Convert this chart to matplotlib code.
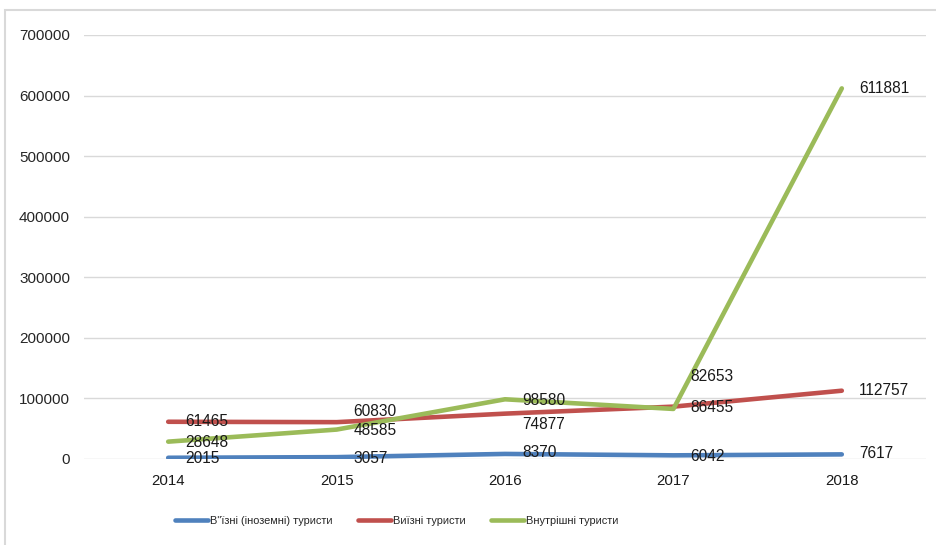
import numpy as np
import matplotlib
matplotlib.use("Agg")
import matplotlib.pyplot as plt
from matplotlib.patches import Rectangle

years = ["2014", "2015", "2016", "2017", "2018"]
inbound = [2015, 3057, 8370, 6042, 7617]
outbound = [61465, 60830, 74877, 86455, 112757]
domestic = [28648, 48585, 98580, 82653, 611881]
series_names = ["В\"їзні (іноземні) туристи", "Виїзні туристи", "Внутрішні туристи"]
y_ticks = [0, 100000, 200000, 300000, 400000, 500000, 600000, 700000]

colors = ["#4F81BD", "#C0504D", "#9BBB59"]

# vertical nudges of data labels (pixels), as placed in the original
label_dy = [
    [-1, -1, 1, -1, 1],
    [0, 11, -11, -1, 0],
    [-1, -1, -1, 32, 0],
]

font = "Liberation Sans"

W, H = 937, 545
fig = plt.figure(figsize=(W / 100, H / 100), dpi=100)
ax = fig.add_axes([84 / W, (H - 459) / H, (926 - 84) / W, (459 - 35) / H])

x = np.arange(len(years))
for vals, c, name, dys in zip([inbound, outbound, domestic], colors, series_names, label_dy):
    ax.plot(x, vals, color=c, lw=3.3, solid_capstyle="round", label=name)
    for xi, v, dy in zip(x, vals, dys):
        ax.annotate(f"{v}", (xi, v), xytext=(17, dy), textcoords="offset pixels",
                    ha="left", va="center", fontsize=11.2, family=font, color="#1a1a1a")

ax.set_xlim(-0.5, len(years) - 0.5)
ax.set_ylim(0, 700000)
ax.set_yticks(y_ticks)
ax.set_yticklabels([str(t) for t in y_ticks], family=font, fontsize=11, color="#262626")
ax.set_xticks(x)
ax.set_xticklabels(years, family=font, fontsize=10.8, color="#1a1a1a")
ax.tick_params(axis="both", length=0)
ax.tick_params(axis="y", pad=10)
ax.tick_params(axis="x", pad=11)
ax.grid(axis="y", color="#D9D9D9", lw=1)
ax.set_axisbelow(True)
for s in ax.spines.values():
    s.set_visible(False)

fig.legend(loc="center", bbox_to_anchor=(397 / W, 24 / H), ncol=3, frameon=False,
           prop={"family": font, "size": 7.9}, labelcolor="#262626",
           handlelength=3.0, handletextpad=0.2, columnspacing=2.3)

fig.patches.append(Rectangle((5 / W, -0.05), 1.2, 535 / H + 0.05, transform=fig.transFigure,
                             fill=False, edgecolor="#D9D9D9", lw=1.5))

fig.savefig("out.png", dpi=100)
